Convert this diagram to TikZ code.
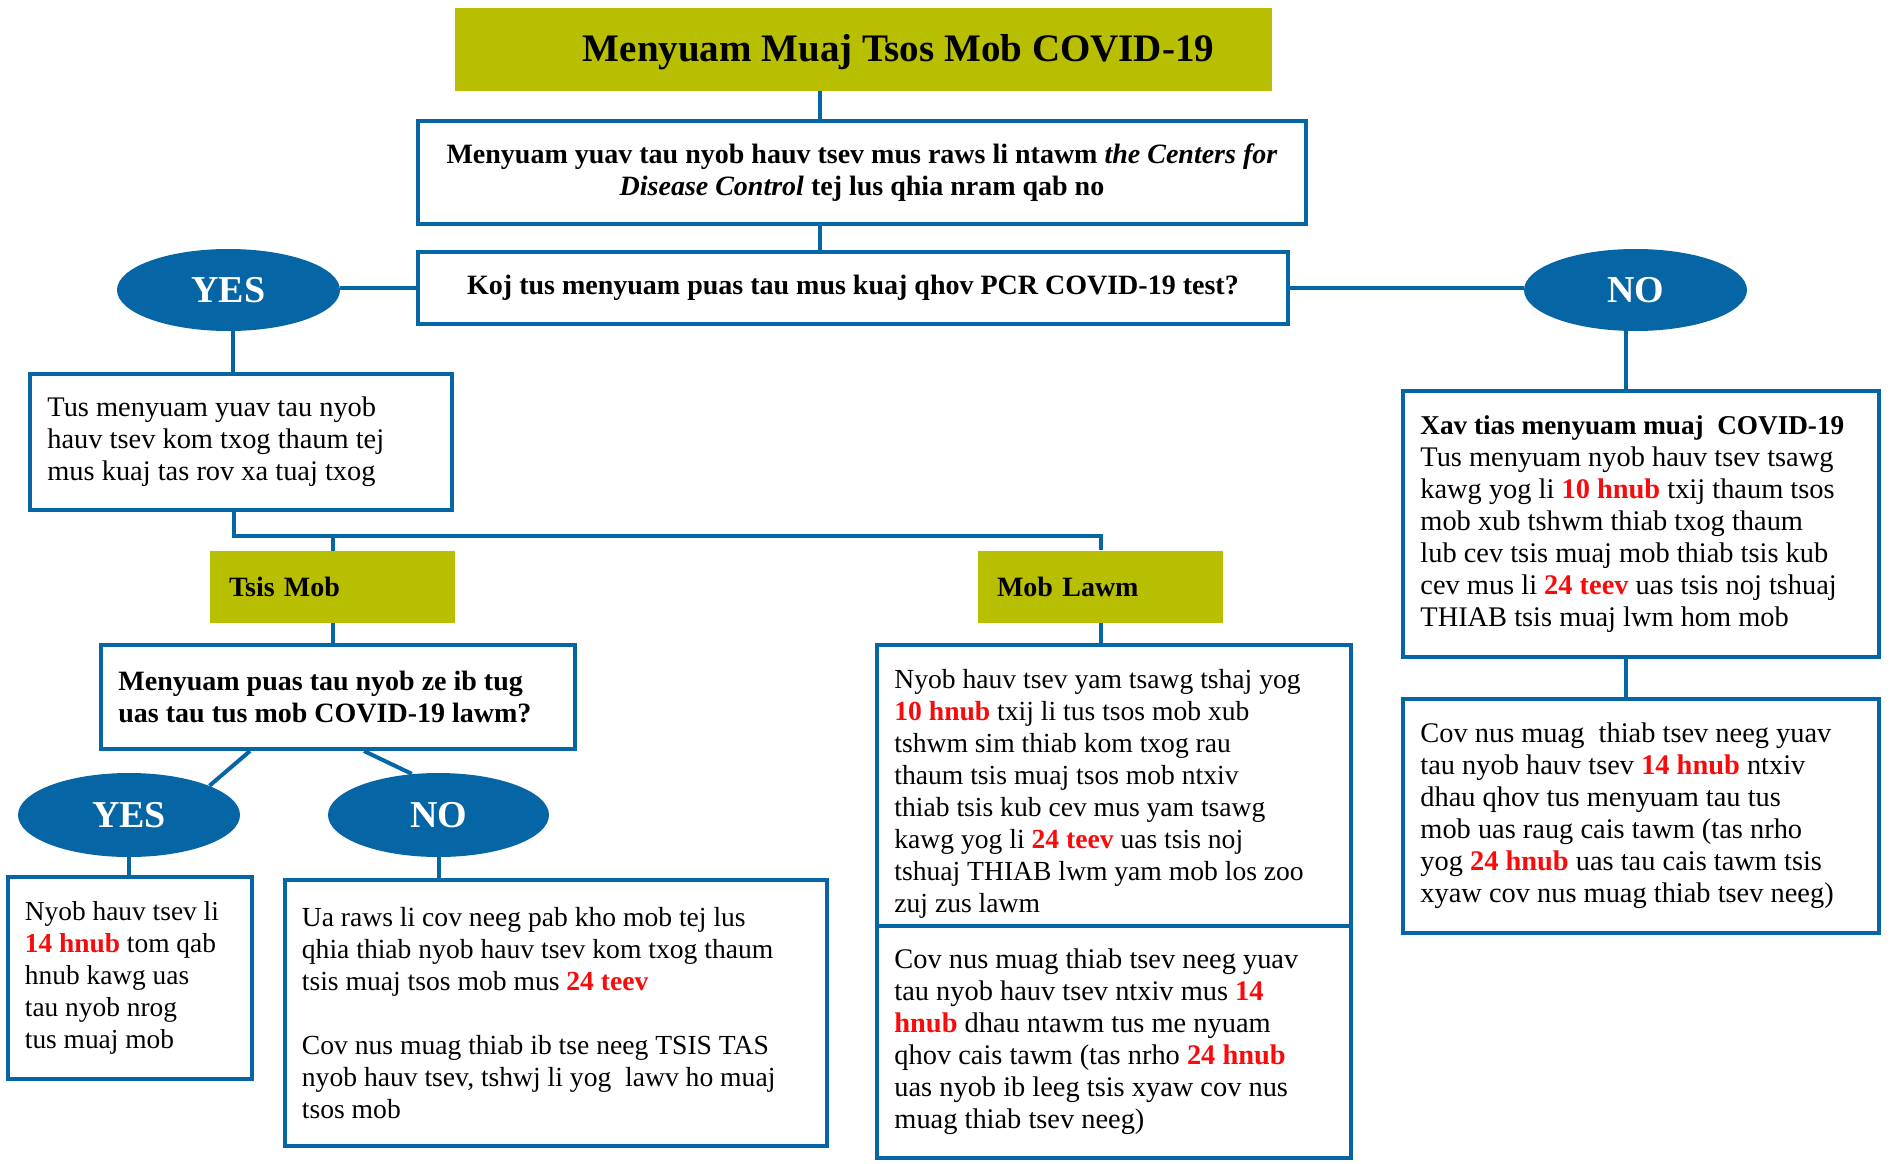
\documentclass[tikz,border=0pt]{standalone}
\usepackage{fontspec}
\setmainfont{Liberation Serif}
\usetikzlibrary{shapes.geometric,calc}
\definecolor{mblue}{RGB}{6,101,164}
\definecolor{mgreen}{RGB}{183,191,0}
\definecolor{hred}{RGB}{250,10,10}
\newcommand{\hmbody}{\fontsize{14.2}{16}\selectfont}
\newcommand{\hmbold}{\fontsize{14}{15.7}\selectfont\bfseries}
\newcommand{\rd}[1]{\textbf{\textcolor{hred}{#1}}}
\begin{document}
\begin{tikzpicture}[x=0.5pt,y=-0.5pt,
  frame/.style={draw=mblue, line width=2pt, fill=white, inner sep=0pt},
  txt/.style={anchor=west, inner sep=0pt, align=left, font=\hmbody},
  cbox/.style={draw=mblue, line width=2pt, fill=white, inner sep=2pt, font=\hmbold, align=center},
  gbox/.style={fill=mgreen, draw=none, inner xsep=9.5pt, inner ysep=0pt, font=\hmbold, align=left, text width=103.5pt, minimum height=36pt},
  oval/.style={ellipse, fill=mblue, draw=none, inner sep=0pt, text=white, font=\fontsize{19}{20}\selectfont\bfseries},
  conn/.style={draw=mblue, line width=2pt}
]
\useasboundingbox (0,0) rectangle (1891,1163);

% title
\node[fill=mgreen, draw=none, minimum width=408.5pt, minimum height=41.5pt, inner sep=0pt] (title) at (863.5,49.5) {};
\node[anchor=base, inner sep=0pt, font=\fontsize{19.5}{21}\selectfont\bfseries] (titletext) at (898.5,61) {Menyuam Muaj Tsos Mob COVID-19};

% rule and question
\node[cbox, minimum width=444pt, minimum height=51.5pt] (rule) at (862,172.5)
  {Menyuam yuav tau nyob hauv tsev mus raws li ntawm \textit{the Centers for}\\
   \textit{Disease Control} tej lus qhia nram qab no};
\node[cbox, minimum width=435pt, minimum height=36pt] (question) at (853,288)
  {Koj tus menyuam puas tau mus kuaj qhov PCR COVID-19 test?};

\node[oval, minimum width=111.5pt, minimum height=41pt] (yes1) at (228.5,290) {YES};
\node[oval, minimum width=111.5pt, minimum height=41pt] (no1) at (1635.5,290) {NO};

% left branch
\node[frame, minimum width=211pt, minimum height=68pt] (tus) at (241,442) {};
\node[txt] (tustext) at ([xshift=9.5pt]tus.west)
  {Tus menyuam yuav tau nyob\\hauv tsev kom txog thaum tej\\mus kuaj tas rov xa tuaj txog};

\node[gbox] (tsismob) at (332.5,587) {Tsis Mob};
\node[gbox] (moblawm) at (1100.5,586.5) {Mob Lawm};

\node[frame, minimum width=237pt, minimum height=52pt] (puas) at (338,697) {};
\node[txt, font=\hmbold] (puastext) at ([xshift=9.5pt]puas.west)
  {Menyuam puas tau nyob ze ib tug\\uas tau tus mob COVID-19 lawm?};

\node[oval, minimum width=111pt, minimum height=42pt] (yes2) at (129,815) {YES};
\node[oval, minimum width=110.5pt, minimum height=42pt] (no2) at (438.5,815) {NO};

\node[frame, minimum width=122pt, minimum height=101pt] (yesbox) at (130,978) {};
\node[txt, font=\fontsize{13.7}{16}\selectfont] (yesboxtext) at ([xshift=9.25pt]yesbox.west)
  {Nyob hauv tsev li\\\rd{14 hnub} tom qab\\hnub kawg uas\\tau nyob nrog\\tus muaj mob};

\node[frame, minimum width=271pt, minimum height=133pt] (nobox) at (556,1013) {};
\node[txt, font=\fontsize{13.8}{16}\selectfont] (noboxtext) at ([xshift=9.25pt]nobox.west)
  {Ua raws li cov neeg pab kho mob tej lus\\
   qhia thiab nyob hauv tsev kom txog thaum\\
   tsis muaj tsos mob mus \rd{24 teev}\\[16pt]
   Cov nus muag thiab ib tse neeg TSIS TAS\\
   nyob hauv tsev, tshwj li yog\ \ lawv ho muaj\\
   tsos mob};

% middle branch
\node[frame, minimum width=237pt, minimum height=140.5pt] (ml1) at (1114,785.5) {};
\node[txt, font=\fontsize{13.8}{16}\selectfont] (ml1text) at ([xshift=9.5pt,yshift=-4pt]ml1.west)
  {Nyob hauv tsev yam tsawg tshaj yog\\
   \rd{10 hnub} txij li tus tsos mob xub\\
   tshwm sim thiab kom txog rau\\
   thaum tsis muaj tsos mob ntxiv\\
   thiab tsis kub cev mus yam tsawg\\
   kawg yog li \rd{24 teev} uas tsis noj\\
   tshuaj THIAB lwm yam mob los zoo\\
   zuj zus lawm};
\node[frame, minimum width=237pt, minimum height=116pt] (ml2) at (1114,1042) {};
\node[txt] (ml2text) at ([xshift=9.5pt]ml2.west)
  {Cov nus muag thiab tsev neeg yuav\\
   tau nyob hauv tsev ntxiv mus \rd{14}\\
   \rd{hnub} dhau ntawm tus me nyuam\\
   qhov cais tawm (tas nrho \rd{24 hnub}\\
   uas nyob ib leeg tsis xyaw cov nus\\
   muag thiab tsev neeg)};

% right branch
\node[frame, minimum width=238pt, minimum height=133pt] (xav) at (1641,524) {};
\node[txt] (xavtext) at ([xshift=9.5pt]xav.west)
  {{\fontsize{13.6}{16}\selectfont\bfseries Xav tias menyuam muaj\ \ COVID-19}\\
   Tus menyuam nyob hauv tsev tsawg\\
   kawg yog li \rd{10 hnub} txij thaum tsos\\
   mob xub tshwm thiab txog thaum\\
   lub cev tsis muaj mob thiab tsis kub\\
   cev mus li \rd{24 teev} uas tsis noj tshuaj\\
   THIAB tsis muaj lwm hom mob};
\node[frame, minimum width=238pt, minimum height=117pt] (rb2) at (1641,816) {};
\node[txt] (rb2text) at ([xshift=9.5pt]rb2.west)
  {Cov nus muag\ \ thiab tsev neeg yuav\\
   tau nyob hauv tsev \rd{14 hnub} ntxiv\\
   dhau qhov tus menyuam tau tus\\
   mob uas raug cais tawm (tas nrho\\
   yog \rd{24 hnub} uas tau cais tawm tsis\\
   xyaw cov nus muag thiab tsev neeg)};

% connectors
\coordinate (split) at (234,536);
\draw[conn] ([xshift=-21.75pt]title.south) -- ([xshift=-21.75pt]title.south |- rule.north);
\draw[conn] ([xshift=-21pt]rule.south) -- ([xshift=-21pt]rule.south |- question.north);
\draw[conn] (question.west) -- (question.west -| yes1.east);
\draw[conn] (question.east) -- (question.east -| no1.west);
\draw[conn] ([xshift=2.25pt]yes1.south) -- ([xshift=2.25pt]yes1.south |- tus.north);
\draw[conn] ([xshift=-3.5pt]tus.south) -- (split) -| (moblawm.north);
\draw[conn] (tsismob.north) -- (tsismob.north |- split);
\draw[conn] (tsismob.south) -- (tsismob.south |- puas.north);
\draw[conn] (moblawm.south) -- (moblawm.south |- ml1.north);
\draw[conn] ([xshift=-44pt]puas.south) -- (yes2.20);
\draw[conn] ([xshift=13pt]puas.south) -- (no2.123);
\draw[conn] (yes2.south) -- (yes2.south |- yesbox.north);
\draw[conn] (no2.south) -- (no2.south |- nobox.north);
\draw[conn] ([xshift=-4.75pt]no1.south) -- ([xshift=-4.75pt]no1.south |- xav.north);
\draw[conn] ([xshift=-7.5pt]xav.south) -- ([xshift=-7.5pt]xav.south |- rb2.north);
\end{tikzpicture}
\end{document}
